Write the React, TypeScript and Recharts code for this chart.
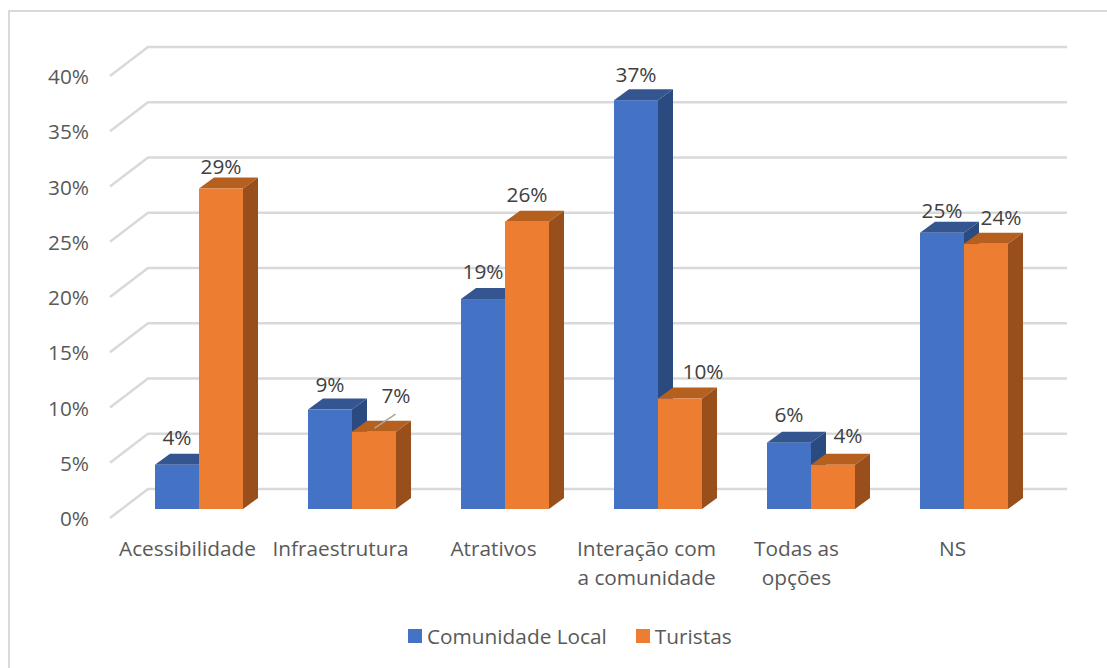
import { Bar, BarChart, CartesianGrid, LabelList, Legend, XAxis, YAxis } from "recharts";

const categories = [
  "Acessibilidade",
  "Infraestrutura",
  "Atrativos",
  "Interação com\na comunidade",
  "Todas as\nopções",
  "NS",
];
const comunidadeLocal = [4, 9, 19, 37, 6, 25];
const turistas = [29, 7, 26, 10, 4, 24];
const percentTicks = [0, 5, 10, 15, 20, 25, 30, 35, 40];

const rows = categories.map((name, i) => ({
  name,
  comunidade: comunidadeLocal[i],
  turistas: turistas[i],
}));

const FONT = '"Open Sans", sans-serif';
const FONT_SIZE = 20.8;
const TICK_COLOR = "#595959";
const VALUE_COLOR = "#404040";
const GRID_COLOR = "#d9d9d9";

// fake 3D: how far the bar's top and side recede
const DEPTH_X = 15;
const DEPTH_Y = 11;

// hand-placed value labels, nudged per category
const comunidadeNudge = {
  dx: [0, 0, 0, 0, 0, 0],
  dy: [-1, 1, -1, 1, -2, 4],
};
const turistasNudge = {
  dx: [0, 22, 0, 23, 15, 15],
  dy: [4, -10, -1, -1, -3, 0],
};
const categoryNudge = [0, 0, 0, 0, -3, 0];
const LEADER_INDEX = 1; // "7%" sits away from its bar, with a short leader

function box3d(front: string, top: string, side: string) {
  return (props: any) => {
    const { x, y, width, height } = props;
    const right = x + width;
    const bottom = y + height;
    return (
      <g>
        <polygon
          points={`${x},${y} ${x + DEPTH_X},${y - DEPTH_Y} ${right + DEPTH_X},${y - DEPTH_Y} ${right},${y}`}
          fill={top}
        />
        <polygon
          points={`${right},${y} ${right + DEPTH_X},${y - DEPTH_Y} ${right + DEPTH_X},${bottom - DEPTH_Y} ${right},${bottom}`}
          fill={side}
        />
        <rect x={x} y={y} width={width} height={height} fill={front} />
      </g>
    );
  };
}

function GridLine(props: any) {
  const { x1, x2, y1 } = props;
  return (
    <polyline
      points={`${x1 - 12},${y1 + 9} ${x1 + 26},${y1 - 20} ${x2 + 27},${y1 - 20}`}
      fill="none"
      stroke={GRID_COLOR}
      strokeWidth={2.5}
    />
  );
}

function PercentTick(props: any) {
  const { x, y, payload } = props;
  return (
    <text x={x - 25} y={y + 17} textAnchor="end" fontFamily={FONT} fontSize={FONT_SIZE} fill={TICK_COLOR}>
      {payload.value}%
    </text>
  );
}

function CategoryTick(props: any) {
  const { x, y, payload, index } = props;
  const lines: string[] = String(payload.value).split("\n");
  return (
    <text textAnchor="middle" fontFamily={FONT} fontSize={FONT_SIZE} fill={TICK_COLOR}>
      {lines.map((line, i) => (
        <tspan key={i} x={x - 11 + categoryNudge[index]} y={y + 39 + i * 29}>
          {line}
        </tspan>
      ))}
    </text>
  );
}

function valueLabel(nudge: { dx: number[]; dy: number[] }, leaderIndex = -1) {
  return (props: any) => {
    const { x, y, width, value, index } = props;
    return (
      <g>
        {index === leaderIndex && (
          <line x1={x + 22.5} y1={y - 3.5} x2={x + 43.5} y2={y - 17.5} stroke="#a6a6a6" strokeWidth={1.5} />
        )}
        <text
          x={x + width / 2 + nudge.dx[index]}
          y={y - 19 + nudge.dy[index]}
          textAnchor="middle"
          fontFamily={FONT}
          fontSize={FONT_SIZE}
          fill={VALUE_COLOR}
        >
          {value}%
        </text>
      </g>
    );
  };
}

function LegendRow(props: any) {
  return (
    <div style={{ display: "flex", fontFamily: FONT, fontSize: FONT_SIZE, color: TICK_COLOR, lineHeight: "28px" }}>
      {props.payload.map((entry: any, i: number) => (
        <div key={i} style={{ display: "flex", alignItems: "center", marginRight: 29 }}>
          <span style={{ width: 14, height: 14, background: entry.color, marginRight: 5 }} />
          {entry.value}
        </div>
      ))}
    </div>
  );
}

export default function App() {
  return (
    <div style={{ position: "absolute", left: 0, top: 0, width: 1107, height: 668, overflow: "hidden", background: "#fff" }}>
      <div
        style={{
          position: "absolute",
          left: 8,
          top: 10,
          width: 1120,
          height: 680,
          border: `2px solid ${GRID_COLOR}`,
        }}
      />
      <div style={{ position: "absolute", left: 0, top: 0 }}>
        <BarChart
          width={1107}
          height={668}
          data={rows}
          barSize={44}
          barGap={0}
          margin={{ top: 67, right: 67, bottom: 99, left: 22 }}
        >
          <CartesianGrid vertical={false} horizontal={(p: any) => <GridLine key={p.index} {...p} />} />
          <XAxis dataKey="name" axisLine={false} tickLine={false} interval={0} height={60} tick={CategoryTick} />
          <YAxis
            width={100}
            domain={[0, 40]}
            ticks={percentTicks}
            axisLine={false}
            tickLine={false}
            tick={PercentTick}
          />
          <Legend
            layout="horizontal"
            verticalAlign="middle"
            align="center"
            content={LegendRow}
            wrapperStyle={{ left: 408, top: 622, width: "auto" }}
          />
          <Bar
            dataKey="comunidade"
            name="Comunidade Local"
            fill="#4472c4"
            isAnimationActive={false}
            shape={box3d("#4472c4", "#355591", "#2a4a80")}
          >
            <LabelList dataKey="comunidade" content={valueLabel(comunidadeNudge)} />
          </Bar>
          <Bar
            dataKey="turistas"
            name="Turistas"
            fill="#ed7d31"
            isAnimationActive={false}
            shape={box3d("#ed7d31", "#b5601f", "#994f1c")}
          >
            <LabelList dataKey="turistas" content={valueLabel(turistasNudge, LEADER_INDEX)} />
          </Bar>
        </BarChart>
      </div>
    </div>
  );
}
